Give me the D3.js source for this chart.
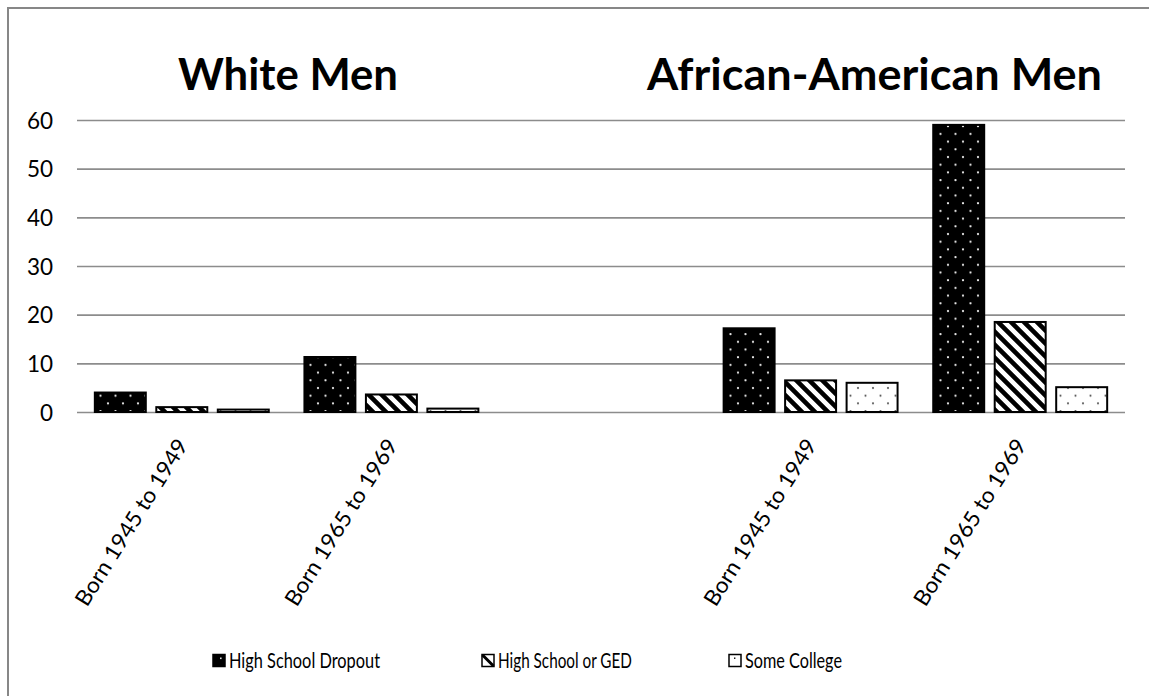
<!DOCTYPE html>
<html><head><meta charset="utf-8">
<script src="https://cdn.jsdelivr.net/npm/d3@7"></script>
<style>
html,body{margin:0;padding:0;background:#fff;}
svg{display:block;font-family:"Lato","Open Sans",sans-serif;}
</style></head>
<body>
<svg id="chart" width="1149" height="696"></svg>
<script>
const categories = ["Born 1945 to 1949","Born 1965 to 1969","","Born 1945 to 1949","Born 1965 to 1969"];
const series = ["High School Dropout","High School or GED","Some College"];
const dropout = [4.0, 11.3, null, 17.2, 59.0];
const gedValues = [1.0, 3.6, null, 6.5, 18.5];
const someCollege = [0.5, 0.7, null, 6.0, 5.1];
const yTicks = [0,10,20,30,40,50,60];
const panelTitles = ["White Men","African-American Men"];

const svg = d3.select("#chart");
const plot = {left:77, right:1125, top:120, bottom:412};

// patterns
const defs = svg.append("defs");
const pd = defs.append("pattern").attr("id","dotsDark").attr("patternUnits","userSpaceOnUse")
  .attr("width",15).attr("height",15.4);
pd.append("rect").attr("width",15).attr("height",15.4).attr("fill","#000");
pd.append("circle").attr("cx",3).attr("cy",3).attr("r",1.15).attr("fill","#e8e8e8");
pd.append("circle").attr("cx",10.5).attr("cy",10.7).attr("r",1.15).attr("fill","#e8e8e8");

const pl = defs.append("pattern").attr("id","dotsLight").attr("patternUnits","userSpaceOnUse")
  .attr("width",15).attr("height",15.4);
pl.append("rect").attr("width",15).attr("height",15.4).attr("fill","#fff");
pl.append("circle").attr("cx",3).attr("cy",3).attr("r",1.1).attr("fill","#555");
pl.append("circle").attr("cx",10.5).attr("cy",10.7).attr("r",1.1).attr("fill","#555");

const ph = defs.append("pattern").attr("id","hatch").attr("patternUnits","userSpaceOnUse")
  .attr("width",13).attr("height",13);
ph.append("rect").attr("width",13).attr("height",13).attr("fill","#fff");
ph.append("path").attr("d","M-1,-1 L14,14 M-7.5,5.5 L7.5,20.5 M5.5,-7.5 L20.5,7.5")
  .attr("stroke","#000").attr("stroke-width",4.6);

const fills = ["url(#dotsDark)","url(#hatch)","url(#dotsLight)"];
const seriesData = [dropout, gedValues, someCollege];

// border
svg.append("rect").attr("x",8).attr("y",8).attr("width",1300).attr("height",900)
  .attr("fill","none").attr("stroke","#878787").attr("stroke-width",2);

const y = d3.scaleLinear().domain([0,60]).range([plot.bottom, plot.top]);
const x0 = d3.scaleBand().domain(d3.range(categories.length)).range([plot.left, plot.right]).padding(0);
const x1 = d3.scaleBand().domain(series).range([0, x0.bandwidth()]).paddingInner(0.171).paddingOuter(0.29);

// gridlines + y labels
const yAxis = d3.axisLeft(y).tickValues(yTicks).tickSize(-(plot.right-plot.left)).tickPadding(24).tickFormat(d3.format("d"));
const ga = svg.append("g").attr("transform",`translate(${plot.left},0)`).call(yAxis);
ga.select(".domain").remove();
ga.selectAll(".tick line").attr("stroke","#8c8c8c").attr("stroke-width",1.6);
ga.selectAll(".tick text").attr("font-size",22.5).attr("fill","#000")
  .attr("font-family","Lato, 'Open Sans', sans-serif").attr("dy","0.36em");

// bars
const rows = [];
categories.forEach((c,i)=>{ series.forEach((s,j)=>{ const v = seriesData[j][i]; if(v!=null) rows.push({i, s, j, v}); }); });
svg.append("g").selectAll("rect").data(rows).join("rect")
  .attr("x", d=>x0(d.i)+x1(d.s))
  .attr("y", d=>y(d.v))
  .attr("width", x1.bandwidth())
  .attr("height", d=>y(0)-y(d.v))
  .attr("fill", d=>fills[d.j])
  .attr("stroke","#000").attr("stroke-width",2);

// x labels
const xAxis = d3.axisBottom(x0).tickSize(0).tickFormat(i=>categories[i]);
const gx = svg.append("g").attr("transform",`translate(0,${plot.bottom})`).call(xAxis);
gx.select(".domain").remove();
gx.selectAll(".tick text")
  .attr("font-size",22).attr("fill","#000").attr("font-family","Lato, 'Open Sans', sans-serif")
  .attr("text-anchor","end").attr("dy",0).attr("y",0)
  .attr("transform","translate(7,33) rotate(-58)")
  .each(function(i){ if(categories[i]) d3.select(this).attr("textLength",192).attr("lengthAdjust","spacingAndGlyphs"); });

// titles
const titleX = [288, 874.5];
const titleW = [220, 455];
svg.selectAll("text.ptitle").data(panelTitles).join("text").attr("class","ptitle")
  .attr("x",(d,i)=>titleX[i] - titleW[i]/2).attr("y",90).attr("text-anchor","start")
  .attr("textLength",(d,i)=>titleW[i]).attr("lengthAdjust","spacingAndGlyphs")
  .attr("font-size",43).attr("font-weight","bold").attr("fill","#000").text(d=>d);

// legend
const legX = [213, 482, 729];
const legW = [151, 134, 97];
const leg = svg.append("g");
series.forEach((s,j)=>{
  const g = leg.append("g").attr("transform",`translate(${legX[j]},661)`);
  g.append("rect").attr("x",0).attr("y",-6.5).attr("width",12).attr("height",12)
    .attr("fill", j===0?"#000":"#fff").attr("stroke","#000").attr("stroke-width",1.5);
  if(j===0){ g.append("rect").attr("x",7).attr("y",-3.5).attr("width",1.6).attr("height",1.6).attr("fill","#ddd"); }
  if(j===1){ g.append("path").attr("d","M0.5,-6 L11.5,5").attr("stroke","#000").attr("stroke-width",3); }
  if(j===2){ g.append("rect").attr("x",5).attr("y",-3.5).attr("width",1.4).attr("height",1.4).attr("fill","#000"); }
  g.append("text").attr("x",16).attr("y",0).attr("dy","0.35em").attr("font-size",20.5)
    .attr("textLength",legW[j]).attr("lengthAdjust","spacingAndGlyphs").attr("fill","#000").text(s);
});
</script>
</body></html>
